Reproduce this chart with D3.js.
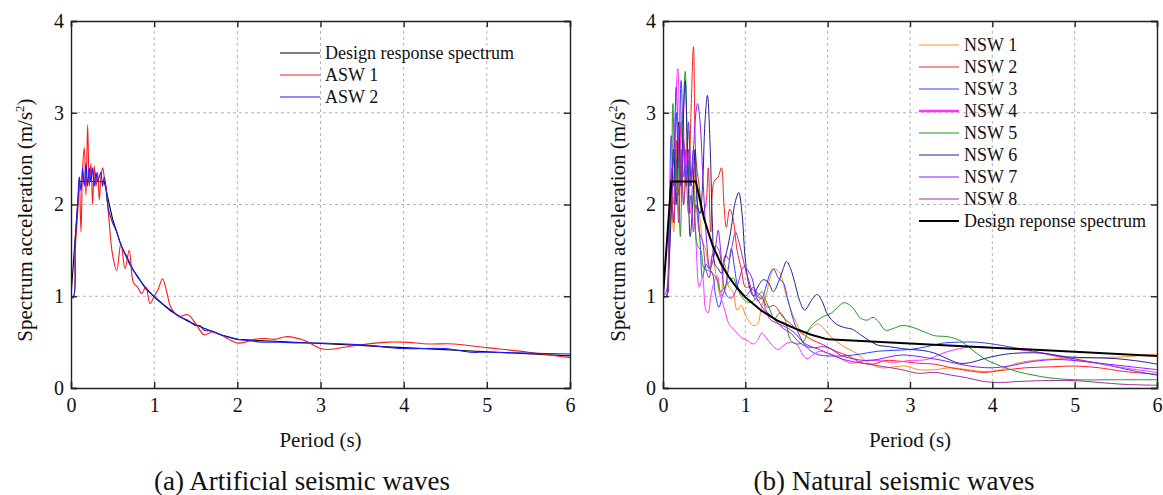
<!DOCTYPE html>
<html>
<head>
<meta charset="utf-8">
<script src="https://cdn.jsdelivr.net/npm/d3@7"></script>
<style>
  body { margin: 0; background: #fff; }
  text { font-family: "Liberation Serif", "Times New Roman", serif; fill: #111; }
</style>
</head>
<body>
<script>
// period (s) / spectral acceleration (m/s2) pairs
var design = [[0,1.0],[0.1,2.25],[0.4,2.25],[0.5,1.84],[0.6,1.56],[0.7,1.36],[0.8,1.21],[0.9,1.09],[1.0,0.99],[1.2,0.84],[1.4,0.73],[1.6,0.65],[1.8,0.58],[2.0,0.53],[3,0.485],[4,0.44],[5,0.395],[6,0.35]];

var asw1 = [[0,1.0],[0.03,0.98],[0.05,1.5],[0.08,1.9],[0.1,2.3],[0.12,1.7],[0.14,2.4],[0.16,2.62],[0.18,2.1],[0.2,2.87],[0.22,2.2],[0.24,2.45],[0.26,2.0],[0.28,2.42],[0.3,2.2],[0.32,2.35],[0.34,2.05],[0.36,2.3],[0.38,2.4],[0.4,2.3],[0.42,2.2],[0.45,1.9],[0.5,1.45],[0.55,1.28],[0.6,1.58],[0.65,1.3],[0.7,1.5],[0.75,1.15],[0.8,1.1],[0.85,1.03],[0.9,1.1],[0.95,0.92],[1.0,1.0],[1.05,1.08],[1.1,1.19],[1.15,1.05],[1.2,0.88],[1.3,0.78],[1.4,0.8],[1.5,0.7],[1.6,0.58],[1.7,0.61],[1.8,0.58],[1.9,0.53],[2.0,0.49],[2.1,0.5],[2.2,0.53],[2.35,0.54],[2.45,0.53],[2.6,0.56],[2.8,0.52],[3.0,0.43],[3.1,0.42],[3.4,0.46],[3.8,0.5],[4.0,0.5],[4.3,0.48],[4.6,0.48],[5.0,0.44],[5.5,0.39],[6.0,0.33]];

var asw2 = [[0,1.0],[0.03,1.0],[0.05,1.6],[0.08,2.0],[0.1,2.3],[0.12,2.15],[0.14,2.4],[0.16,2.2],[0.18,2.45],[0.2,2.2],[0.22,2.4],[0.24,2.25],[0.26,2.4],[0.28,2.2],[0.3,2.35],[0.32,2.25],[0.34,2.3],[0.36,2.35],[0.38,2.2],[0.4,2.3],[0.45,1.95],[0.5,1.8],[0.55,1.7],[0.6,1.56],[0.7,1.38],[0.75,1.28],[0.8,1.22],[0.9,1.08],[1.0,1.0],[1.1,0.92],[1.2,0.85],[1.3,0.78],[1.4,0.74],[1.5,0.68],[1.55,0.68],[1.6,0.63],[1.7,0.62],[1.8,0.58],[2.0,0.53],[2.1,0.52],[2.3,0.5],[2.5,0.5],[2.8,0.49],[3.0,0.49],[3.5,0.47],[4.0,0.43],[4.5,0.43],[4.8,0.39],[5.0,0.39],[5.5,0.38],[6.0,0.37]];

var nsw1 = [[0,1.0],[0.04,1.0],[0.07,1.3],[0.1,2.0],[0.13,1.7],[0.16,2.6],[0.19,1.9],[0.22,2.5],[0.25,2.0],[0.28,2.6],[0.31,2.8],[0.34,2.2],[0.37,2.5],[0.4,2.0],[0.44,1.9],[0.48,1.6],[0.52,1.5],[0.56,1.3],[0.6,1.45],[0.65,1.2],[0.7,1.0],[0.75,1.35],[0.8,1.1],[0.85,1.05],[0.9,0.85],[0.95,0.9],[1.0,0.8],[1.05,0.72],[1.1,0.68],[1.15,0.7],[1.2,0.9],[1.25,1.0],[1.3,1.2],[1.35,1.3],[1.42,1.25],[1.5,1.0],[1.6,0.75],[1.7,0.6],[1.8,0.65],[1.88,0.7],[1.95,0.65],[2.05,0.55],[2.2,0.45],[2.35,0.38],[2.5,0.27],[2.65,0.22],[2.8,0.23],[2.95,0.24],[3.1,0.2],[3.3,0.2],[3.5,0.22],[3.7,0.2],[3.9,0.18],[4.1,0.2],[4.3,0.27],[4.5,0.3],[4.8,0.32],[5.2,0.33],[5.6,0.34],[6.0,0.37]];

var nsw2 = [[0,1.0],[0.04,1.0],[0.07,1.4],[0.1,2.2],[0.13,1.8],[0.16,2.7],[0.19,2.1],[0.22,2.9],[0.25,2.3],[0.28,2.6],[0.31,2.2],[0.34,3.0],[0.37,3.72],[0.4,2.5],[0.44,2.2],[0.48,1.9],[0.52,2.0],[0.55,2.4],[0.58,1.7],[0.62,2.25],[0.67,2.3],[0.71,2.4],[0.74,2.0],[0.77,1.75],[0.81,1.95],[0.85,1.85],[0.9,1.5],[0.95,1.3],[1.0,1.1],[1.05,1.1],[1.12,1.05],[1.2,1.0],[1.27,0.88],[1.35,0.9],[1.45,0.78],[1.55,0.7],[1.65,0.62],[1.8,0.53],[1.95,0.47],[2.1,0.4],[2.25,0.35],[2.4,0.28],[2.55,0.26],[2.7,0.3],[2.9,0.29],[3.1,0.27],[3.3,0.26],[3.5,0.22],[3.7,0.19],[3.9,0.17],[4.1,0.19],[4.4,0.22],[4.7,0.23],[5.0,0.24],[5.3,0.22],[5.6,0.18],[6.0,0.15]];

var nsw3 = [[0,1.0],[0.04,1.05],[0.07,1.6],[0.1,2.75],[0.13,2.2],[0.16,3.0],[0.19,2.4],[0.22,3.35],[0.25,2.6],[0.28,2.2],[0.31,2.9],[0.34,2.3],[0.37,2.6],[0.41,2.1],[0.45,1.6],[0.48,1.2],[0.52,1.35],[0.56,1.3],[0.6,1.25],[0.64,1.0],[0.68,0.88],[0.72,1.0],[0.76,1.1],[0.8,1.35],[0.83,1.52],[0.87,1.3],[0.91,1.1],[0.96,1.02],[1.0,1.0],[1.05,1.05],[1.1,1.1],[1.15,1.0],[1.2,0.98],[1.25,1.1],[1.3,1.25],[1.34,1.3],[1.4,1.2],[1.46,1.15],[1.52,0.95],[1.6,0.7],[1.7,0.5],[1.8,0.4],[1.9,0.36],[2.0,0.35],[2.2,0.35],[2.4,0.37],[2.6,0.4],[2.8,0.41],[3.0,0.42],[3.2,0.45],[3.4,0.49],[3.6,0.5],[3.8,0.5],[4.0,0.48],[4.2,0.45],[4.5,0.4],[4.8,0.35],[5.1,0.3],[5.4,0.25],[5.7,0.19],[6.0,0.14]];

var nsw4 = [[0,1.0],[0.04,1.0],[0.07,1.5],[0.1,2.4],[0.13,2.0],[0.15,3.0],[0.18,3.48],[0.21,2.7],[0.24,3.1],[0.27,2.4],[0.3,2.6],[0.33,1.9],[0.36,2.2],[0.4,1.6],[0.44,1.1],[0.48,1.2],[0.52,0.85],[0.55,0.82],[0.58,1.0],[0.62,1.15],[0.66,1.22],[0.7,1.0],[0.75,0.85],[0.8,0.7],[0.88,0.62],[0.95,0.55],[1.02,0.52],[1.1,0.48],[1.15,0.52],[1.2,0.6],[1.25,0.55],[1.32,0.47],[1.4,0.42],[1.47,0.47],[1.55,0.5],[1.62,0.48],[1.7,0.36],[1.75,0.32],[1.82,0.36],[1.9,0.4],[2.0,0.38],[2.1,0.35],[2.2,0.3],[2.3,0.27],[2.45,0.3],[2.6,0.3],[2.8,0.28],[3.0,0.3],[3.2,0.31],[3.4,0.38],[3.6,0.43],[3.8,0.45],[4.0,0.44],[4.3,0.42],[4.6,0.38],[4.9,0.32],[5.2,0.28],[5.6,0.22],[6.0,0.17]];

var nsw5 = [[0,1.0],[0.04,1.0],[0.07,1.4],[0.1,2.0],[0.12,3.1],[0.15,2.2],[0.18,2.6],[0.21,1.65],[0.24,2.8],[0.27,3.45],[0.3,2.5],[0.33,2.2],[0.36,2.4],[0.39,1.8],[0.42,1.55],[0.46,1.5],[0.5,1.3],[0.55,1.28],[0.6,1.25],[0.65,1.2],[0.7,1.05],[0.75,1.1],[0.8,1.15],[0.85,1.2],[0.9,1.1],[0.95,1.0],[1.0,0.95],[1.05,0.93],[1.1,0.95],[1.15,1.0],[1.2,1.05],[1.25,0.95],[1.3,0.85],[1.35,0.75],[1.42,0.82],[1.48,0.75],[1.55,0.52],[1.62,0.48],[1.7,0.5],[1.78,0.65],[1.85,0.72],[1.95,0.78],[2.05,0.82],[2.12,0.88],[2.2,0.93],[2.3,0.88],[2.4,0.76],[2.48,0.74],[2.55,0.77],[2.62,0.72],[2.7,0.63],[2.8,0.65],[2.9,0.68],[3.0,0.67],[3.15,0.62],[3.3,0.57],[3.45,0.56],[3.6,0.52],[3.75,0.42],[3.9,0.32],[4.1,0.24],[4.3,0.18],[4.5,0.14],[4.7,0.11],[5.0,0.09],[5.5,0.09],[6.0,0.09]];

var nsw6 = [[0,1.0],[0.04,1.0],[0.07,1.3],[0.1,1.9],[0.13,2.6],[0.16,2.0],[0.19,2.9],[0.22,2.2],[0.25,3.0],[0.27,3.35],[0.3,2.5],[0.33,1.65],[0.36,2.0],[0.39,2.6],[0.42,2.0],[0.45,1.9],[0.48,2.2],[0.51,2.9],[0.54,3.19],[0.57,2.7],[0.6,1.8],[0.63,1.35],[0.67,1.3],[0.71,1.25],[0.75,1.4],[0.79,1.55],[0.83,1.75],[0.87,2.0],[0.92,2.13],[0.96,1.9],[1.0,1.4],[1.05,1.1],[1.1,1.0],[1.15,1.1],[1.22,1.18],[1.28,1.15],[1.34,1.05],[1.4,1.15],[1.46,1.3],[1.5,1.38],[1.55,1.3],[1.6,1.15],[1.66,0.95],[1.72,0.85],[1.8,0.95],[1.87,1.02],[1.93,0.95],[2.0,0.8],[2.1,0.7],[2.2,0.66],[2.3,0.64],[2.4,0.58],[2.5,0.52],[2.6,0.47],[2.75,0.45],[2.9,0.43],[3.0,0.42],[3.15,0.41],[3.3,0.38],[3.45,0.32],[3.6,0.27],[3.75,0.28],[3.9,0.32],[4.1,0.36],[4.3,0.38],[4.6,0.38],[4.9,0.34],[5.2,0.33],[5.5,0.32],[5.8,0.29],[6.0,0.26]];

var nsw7 = [[0,1.0],[0.04,1.0],[0.07,1.8],[0.1,2.3],[0.13,2.5],[0.16,3.28],[0.19,2.6],[0.22,2.2],[0.25,2.7],[0.28,2.3],[0.31,2.6],[0.34,2.2],[0.37,2.6],[0.4,3.0],[0.42,3.1],[0.45,2.9],[0.49,2.2],[0.53,1.6],[0.57,1.3],[0.61,1.4],[0.64,1.55],[0.67,1.72],[0.7,1.5],[0.74,1.1],[0.78,1.0],[0.83,0.98],[0.88,1.05],[0.93,1.2],[0.98,1.32],[1.03,1.28],[1.08,1.2],[1.13,1.0],[1.18,0.92],[1.23,0.85],[1.3,0.8],[1.38,0.72],[1.46,0.65],[1.55,0.6],[1.65,0.5],[1.75,0.45],[1.85,0.44],[1.95,0.45],[2.05,0.42],[2.15,0.36],[2.3,0.32],[2.45,0.3],[2.6,0.31],[2.75,0.34],[2.9,0.36],[3.05,0.35],[3.2,0.33],[3.4,0.3],[3.6,0.26],[3.8,0.23],[4.0,0.22],[4.2,0.24],[4.5,0.29],[4.8,0.31],[5.1,0.29],[5.4,0.26],[5.7,0.23],[6.0,0.2]];

var nsw8 = [[0,1.0],[0.04,1.0],[0.07,1.5],[0.1,2.1],[0.13,1.8],[0.16,2.5],[0.19,1.8],[0.22,2.6],[0.25,2.0],[0.28,2.3],[0.31,1.9],[0.34,2.1],[0.37,1.7],[0.4,2.0],[0.44,1.7],[0.48,1.6],[0.52,1.3],[0.56,1.2],[0.6,1.45],[0.64,1.55],[0.68,1.5],[0.72,1.35],[0.76,1.45],[0.8,1.4],[0.84,1.55],[0.88,1.7],[0.92,1.6],[0.96,1.45],[1.0,1.3],[1.05,1.15],[1.1,1.0],[1.15,0.95],[1.2,0.98],[1.25,0.85],[1.3,0.75],[1.4,0.7],[1.5,0.66],[1.6,0.6],[1.7,0.5],[1.8,0.45],[1.9,0.42],[2.0,0.38],[2.1,0.34],[2.2,0.31],[2.35,0.28],[2.5,0.26],[2.7,0.23],[2.9,0.2],[3.1,0.16],[3.3,0.17],[3.5,0.14],[3.7,0.11],[3.9,0.07],[4.1,0.06],[4.3,0.07],[4.6,0.08],[5.0,0.08],[5.3,0.06],[5.6,0.04],[6.0,0.03]];

var xTicks = [0, 1, 2, 3, 4, 5, 6];
var yTicks = [0, 1, 2, 3, 4];

var width = 1163, height = 495;
var svg = d3.select("body").append("svg")
  .attr("width", width)
  .attr("height", height);

function drawPanel(p) {
  var x = d3.scaleLinear().domain([0, 6]).range([p.left, p.right]);
  var y = d3.scaleLinear().domain([0, 4]).range([388, 21]);
  var g = svg.append("g");

  // dashed grid
  g.selectAll(".gx").data(xTicks.slice(1, -1)).enter().append("line")
    .attr("x1", d => x(d)).attr("x2", d => x(d))
    .attr("y1", y(0)).attr("y2", y(4))
    .attr("stroke", "#b5b5b5").attr("stroke-dasharray", "3,3");
  g.selectAll(".gy").data(yTicks.slice(1, -1)).enter().append("line")
    .attr("x1", x(0)).attr("x2", x(6))
    .attr("y1", d => y(d)).attr("y2", d => y(d))
    .attr("stroke", "#b5b5b5").attr("stroke-dasharray", "3,3");

  var clipId = "clip" + p.id;
  svg.append("clipPath").attr("id", clipId).append("rect")
    .attr("x", x(0)).attr("y", y(4))
    .attr("width", x(6) - x(0)).attr("height", y(0) - y(4));

  var line = d3.line()
    .x(d => x(d[0])).y(d => y(d[1]))
    .curve(d3.curveCatmullRom.alpha(0.5));
  var straight = d3.line().x(d => x(d[0])).y(d => y(d[1]));

  var lines = g.append("g").attr("clip-path", "url(#" + clipId + ")");
  p.series.forEach(function (s) {
    lines.append("path")
      .datum(s.data)
      .attr("fill", "none")
      .attr("stroke", s.color)
      .attr("stroke-width", s.width)
      .attr("d", s.straight ? straight : line);
  });

  // axes: inward ticks on all four sides
  var tick = -6;
  g.append("g").attr("transform", "translate(0," + y(0) + ")")
    .call(d3.axisBottom(x).tickValues(xTicks).tickSize(tick).tickPadding(10).tickFormat(d3.format("d")));
  g.append("g").attr("transform", "translate(0," + y(4) + ")")
    .call(d3.axisTop(x).tickValues(xTicks).tickSize(tick).tickFormat(""));
  g.append("g").attr("transform", "translate(" + x(0) + ",0)")
    .call(d3.axisLeft(y).tickValues(yTicks).tickSize(tick).tickPadding(7).tickFormat(d3.format("d")));
  g.append("g").attr("transform", "translate(" + x(6) + ",0)")
    .call(d3.axisRight(y).tickValues(yTicks).tickSize(tick).tickFormat(""));
  g.selectAll(".domain").attr("stroke", "#222").attr("stroke-width", 1.4);
  g.selectAll(".tick line").attr("stroke", "#222").attr("stroke-width", 1.4);
  g.selectAll(".tick text")
    .style("font-size", "20px").attr("fill", "#111");

  // axis titles
  g.append("text")
    .attr("x", (x(0) + x(6)) / 2).attr("y", 447)
    .attr("text-anchor", "middle").style("font-size", "21px")
    .text("Period (s)");
  var yt = g.append("text")
    .attr("transform", "translate(" + p.ytitleX + ",220) rotate(-90)")
    .attr("text-anchor", "middle").style("font-size", "21px");
  yt.append("tspan").text("Spectrum acceleration (m/s");
  yt.append("tspan").attr("dy", -8).style("font-size", "13px").text("2");
  yt.append("tspan").attr("dy", 8).text(")");

  g.append("text")
    .attr("x", p.capX).attr("y", 490)
    .attr("text-anchor", "middle").style("font-size", "27px")
    .text(p.caption);

  // legend
  var lg = g.append("g");
  p.legend.forEach(function (s, i) {
    var ly = p.legY + i * 22;
    lg.append("line")
      .attr("x1", p.legX).attr("x2", p.legX + 40)
      .attr("y1", ly).attr("y2", ly)
      .attr("stroke", s.color).attr("stroke-width", s.legWidth || s.width);
    lg.append("text")
      .attr("x", p.legX + 45).attr("y", ly + 6)
      .style("font-size", "18px")
      .text(s.name);
  });
}

var black = { name: "Design response spectrum", data: design, color: "#000", width: 1.1, straight: true };
var red1 = { name: "ASW 1", data: asw1, color: "#ff1a1a", width: 1.1 };
var blue2 = { name: "ASW 2", data: asw2, color: "#1a1aff", width: 1.1 };

drawPanel({
  id: "a", left: 71, right: 570, ytitleX: 32, capX: 302,
  caption: "(a) Artificial seismic waves",
  series: [black, red1, blue2],
  legend: [black, red1, blue2],
  legX: 280, legY: 53
});

var nsw = [
  { name: "NSW 1", data: nsw1, color: "#ff8c1a", width: 1 },
  { name: "NSW 2", data: nsw2, color: "#ff2020", width: 1 },
  { name: "NSW 3", data: nsw3, color: "#2f3fff", width: 1 },
  { name: "NSW 4", data: nsw4, color: "#ff33ff", width: 1, legWidth: 2.5 },
  { name: "NSW 5", data: nsw5, color: "#229922", width: 1 },
  { name: "NSW 6", data: nsw6, color: "#22228f", width: 1 },
  { name: "NSW 7", data: nsw7, color: "#8a1aff", width: 1 },
  { name: "NSW 8", data: nsw8, color: "#a030a0", width: 1 }
];
var designB = { name: "Design reponse spectrum", data: design, color: "#000", width: 2, straight: true };

drawPanel({
  id: "b", left: 663, right: 1157, ytitleX: 625, capX: 894,
  caption: "(b) Natural seismic waves",
  series: nsw.concat([designB]),
  legend: nsw.concat([designB]),
  legX: 919, legY: 45
});
</script>
</body>
</html>
